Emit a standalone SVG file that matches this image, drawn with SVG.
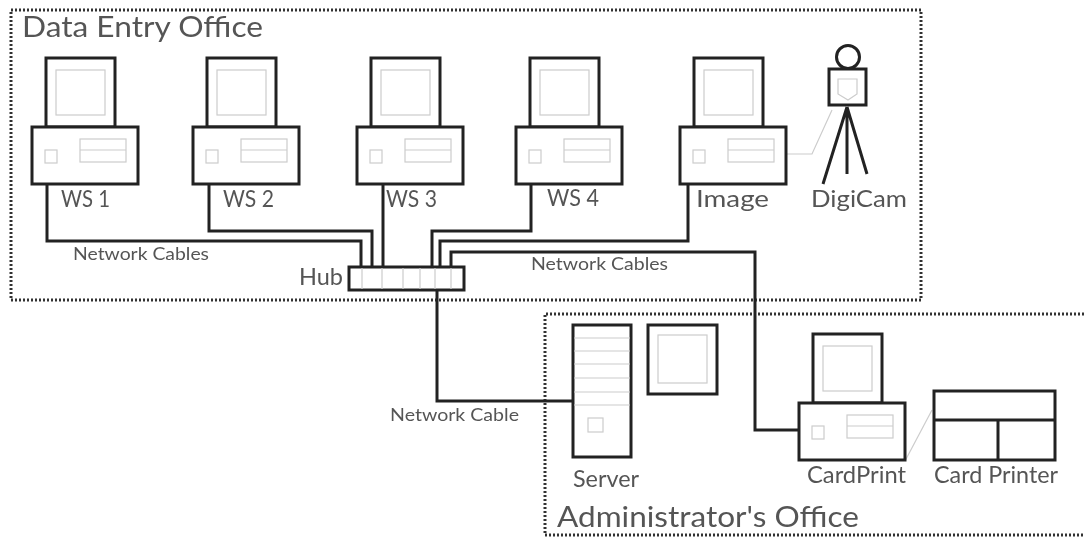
<svg xmlns="http://www.w3.org/2000/svg" width="1084" height="537" viewBox="0 0 1084 537">
<style>
.bg{fill:#fff}
.k{fill:#fff;stroke:#222;stroke-width:3}
.open{fill:none;stroke:#222;stroke-width:3}
.thin{fill:none;stroke:#ccc;stroke-width:1.2}
.area{fill:none;stroke:#333;stroke-width:3;stroke-dasharray:2 2}
.cable{fill:none;stroke:#222;stroke-width:3}
text{font-family:"Lato","Liberation Sans",sans-serif;fill:#555}
.big{font-size:28px}
.mid{font-size:24px}
.sm{font-size:17px}
</style>
<defs>
<filter id="soft" x="-2%" y="-2%" width="104%" height="104%"><feGaussianBlur stdDeviation="0.6"/></filter>
<g id="pc">
<rect class="k" x="14" y="-69" width="69" height="69"/>
<rect class="thin" x="24" y="-57" width="49" height="45"/>
<rect class="k" x="0" y="0" width="106" height="57"/>
<rect class="thin" x="13" y="23" width="12" height="13"/>
<rect class="thin" x="48" y="12" width="46" height="23"/>
<path class="thin" d="M48 23H94"/>
</g>
</defs>
<rect class="bg" width="1084" height="537"/>
<g filter="url(#soft)">
<g id="data-entry-office">
<rect class="area" x="11" y="10" width="910" height="290"/>
<text class="big" x="22" y="37" textLength="241" lengthAdjust="spacingAndGlyphs">Data Entry Office</text>
</g>
<g id="administrators-office">
<path class="area" d="M1084 314H545V535H1084"/>
<text class="big" x="557" y="527" textLength="302" lengthAdjust="spacingAndGlyphs">Administrator's Office</text>
</g>
<g id="connectors">
<path class="cable" d="M47 184V241H361V267"/>
<path class="cable" d="M209 184V231H372V267"/>
<path class="cable" d="M383 184V267"/>
<path class="cable" d="M531 184V231H432V267"/>
<path class="cable" d="M688 184V241H440V267"/>
<path class="cable" d="M451 267V252H755V430H799"/>
<path class="cable" d="M437 290V401H573"/>
<path class="thin" d="M786 154H812L832 110"/>
<path class="thin" d="M905 461L932 410"/>
</g>
<g id="ws1"><use href="#pc" x="32" y="127"/><text class="mid" x="61" y="207" textLength="49" lengthAdjust="spacingAndGlyphs">WS 1</text></g>
<g id="ws2"><use href="#pc" x="193" y="127"/><text class="mid" x="223" y="207" textLength="51" lengthAdjust="spacingAndGlyphs">WS 2</text></g>
<g id="ws3"><use href="#pc" x="357" y="127"/><text class="mid" x="386" y="207" textLength="51" lengthAdjust="spacingAndGlyphs">WS 3</text></g>
<g id="ws4"><use href="#pc" x="516" y="127"/><text class="mid" x="547" y="206" textLength="52" lengthAdjust="spacingAndGlyphs">WS 4</text></g>
<g id="image"><use href="#pc" x="680" y="127"/><text class="mid" x="696" y="207" textLength="73" lengthAdjust="spacingAndGlyphs">Image</text></g>
<g id="digicam">
<circle class="k" cx="848" cy="57" r="11.5"/>
<rect class="k" x="829" y="69" width="37" height="36"/>
<path class="thin" d="M838 79H857V94L848 100L838 94Z"/>
<path class="open" d="M847 107L823 184M847 107V174M847 107L867 174"/>
<text class="mid" x="811" y="207" textLength="96" lengthAdjust="spacingAndGlyphs">DigiCam</text>
</g>
<g id="hub">
<rect class="k" x="349" y="267" width="115" height="23"/>
<path class="thin" d="M362 268V289M382 268V289M403 268V289M420 268V289M435 268V289M451 268V289"/>
<text class="mid" x="299" y="285" textLength="44" lengthAdjust="spacingAndGlyphs">Hub</text>
</g>
<g id="server">
<rect class="k" x="573" y="325" width="58" height="132"/>
<path class="thin" d="M574 338H630M574 351H630M574 364H630M574 378H630M574 392H630M574 405H630"/>
<rect class="thin" x="588" y="418" width="15" height="14"/>
<text class="mid" x="573" y="487" textLength="66" lengthAdjust="spacingAndGlyphs">Server</text>
</g>
<g id="server-monitor">
<rect class="k" x="648" y="325" width="69" height="69"/>
<rect class="thin" x="658" y="335" width="49" height="48"/>
</g>
<g id="cardprint"><use href="#pc" x="799" y="403"/><text class="mid" x="807" y="483" textLength="99" lengthAdjust="spacingAndGlyphs">CardPrint</text></g>
<g id="card-printer">
<rect class="k" x="934" y="391" width="121" height="69"/>
<path class="open" d="M934 420H1055M998 420V460"/>
<text class="mid" x="934" y="483" textLength="124" lengthAdjust="spacingAndGlyphs">Card Printer</text>
</g>
<g id="labels">
<text class="sm" x="73" y="260" textLength="136" lengthAdjust="spacingAndGlyphs">Network Cables</text>
<text class="sm" x="531" y="270" textLength="137" lengthAdjust="spacingAndGlyphs">Network Cables</text>
<text class="sm" x="390" y="421" textLength="129" lengthAdjust="spacingAndGlyphs">Network Cable</text>
</g>
</g>
</svg>
